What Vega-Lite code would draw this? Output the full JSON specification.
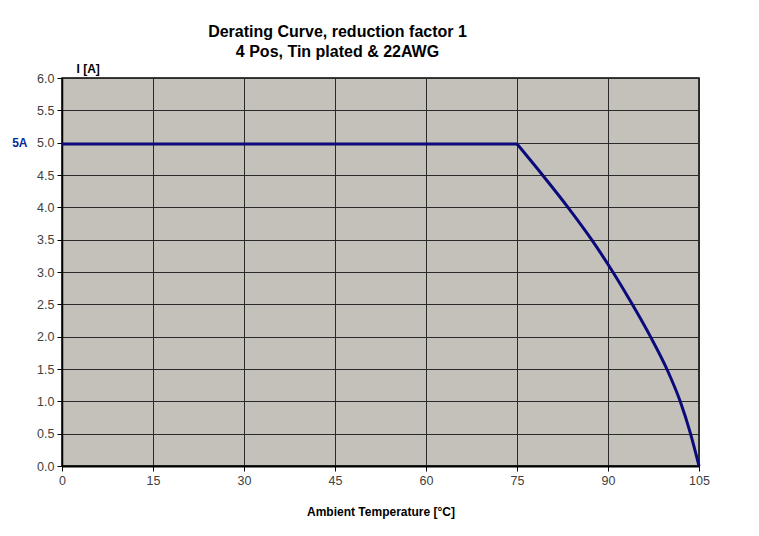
{
  "$schema": "https://vega.github.io/schema/vega-lite/v6.json",
  "autosize": "none",
  "width": 637,
  "height": 388,
  "padding": {"left": 62, "top": 78, "right": 60, "bottom": 70},
  "background": "white",
  "title": {
    "text": ["Derating Curve, reduction factor 1", "4 Pos, Tin plated & 22AWG"],
    "font": "Liberation Sans",
    "fontSize": 16,
    "fontWeight": "bold",
    "color": "#000000",
    "anchor": "middle",
    "frame": "group",
    "dx": -43,
    "offset": 2,
    "lineHeight": 20
  },
  "config": {
    "view": {"fill": "#C4C1BB", "stroke": "#000000", "strokeWidth": 1.5},
    "axis": {
      "grid": true,
      "gridColor": "#2a2a2a",
      "gridWidth": 1,
      "gridOpacity": 1,
      "domainColor": "#000000",
      "tickColor": "#000000",
      "labelFont": "Liberation Sans",
      "labelFontSize": 12.5,
      "labelColor": "#404040",
      "labelFlush": false,
      "titleFont": "Liberation Sans",
      "titleFontWeight": "bold",
      "titleFontSize": 12,
      "titleColor": "#000000"
    }
  },
  "data": {
    "values": [
      {"seg": "flat", "T": 0, "I": 4.98},
      {"seg": "flat", "T": 75, "I": 4.98},
      {"seg": "curve", "T": 75, "I": 4.98},
      {"seg": "curve", "T": 79.2, "I": 4.5},
      {"seg": "curve", "T": 83.4, "I": 4.0},
      {"seg": "curve", "T": 87.3, "I": 3.5},
      {"seg": "curve", "T": 90.8, "I": 3.0},
      {"seg": "curve", "T": 94.0, "I": 2.5},
      {"seg": "curve", "T": 97.0, "I": 2.0},
      {"seg": "curve", "T": 99.7, "I": 1.5},
      {"seg": "curve", "T": 101.9, "I": 1.0},
      {"seg": "curve", "T": 103.6, "I": 0.5},
      {"seg": "curve", "T": 105, "I": 0.0}
    ]
  },
  "layer": [
    {
      "mark": {"type": "line", "color": "#0a0a7a", "strokeWidth": 3, "interpolate": "monotone", "strokeJoin": "round"},
      "encoding": {
        "detail": {"field": "seg", "type": "nominal"},
        "x": {
          "field": "T", "type": "quantitative",
          "scale": {"domain": [0, 105], "nice": false, "zero": true},
          "axis": {
            "values": [0, 15, 30, 45, 60, 75, 90, 105],
            "title": "Ambient Temperature [°C]",
            "titlePadding": 20,
            "domainWidth": 2,
            "tickSize": 5,
            "labelPadding": 3
          }
        },
        "y": {
          "field": "I", "type": "quantitative",
          "scale": {"domain": [0, 6], "nice": false},
          "axis": {
            "values": [0, 0.5, 1, 1.5, 2, 2.5, 3, 3.5, 4, 4.5, 5, 5.5, 6],
            "format": ".1f",
            "title": "I [A]",
            "titleAngle": 0,
            "titleAlign": "left",
            "titleBaseline": "alphabetic",
            "titleX": 14,
            "titleY": -6,
            "domainWidth": 1.5,
            "tickSize": 5,
            "labelPadding": 3
          }
        }
      }
    },
    {
      "mark": {"type": "line", "opacity": 0},
      "encoding": {
        "x": {"field": "T", "type": "quantitative"},
        "y": {
          "field": "I", "type": "quantitative",
          "scale": {"domain": [0, 6], "nice": false},
          "axis": {
            "orient": "left",
            "values": [5],
            "labelExpr": "'5A'",
            "labelColor": "#0a2a9a",
            "labelFontWeight": "bold",
            "labelFontSize": 12,
            "grid": false,
            "domain": false,
            "ticks": false,
            "offset": 34,
            "labelPadding": 1,
            "title": null
          }
        }
      }
    }
  ],
  "resolve": {"scale": {"y": "independent"}}
}
